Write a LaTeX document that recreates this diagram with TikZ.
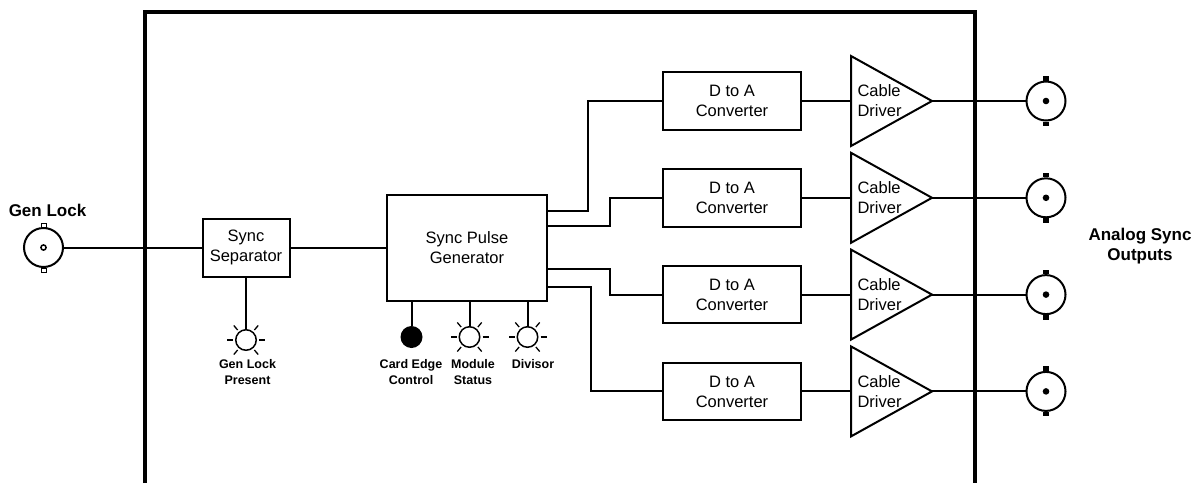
\documentclass[tikz,border=0pt]{standalone}
\usepackage{fontspec}
\setmainfont{Liberation Sans}
\newcommand\blockfont{\fontsize{16.5}{20}\selectfont}
\newcommand\bigtagfont{\bfseries\fontsize{17}{20}\selectfont}
\newcommand\tagfont{\bfseries\fontsize{12.5}{16.5}\selectfont}
\tikzset{
  wire/.style={line width=2pt},
  block/.style={draw, line width=2pt, inner sep=0pt, align=center, font=\blockfont},
  bnc/.style={draw, circle, line width=2pt, minimum size=39pt, inner sep=0pt},
  lamp/.style={draw, circle, line width=1.5pt, minimum size=20.5pt, inner sep=0pt},
  knob/.style={circle, fill=black, minimum size=22pt, inner sep=0pt},
  ray/.style={line width=1.3pt},
  tag/.style={align=center, inner sep=0pt, font=\tagfont},
  bigtag/.style={align=center, inner sep=0pt, font=\bigtagfont},
}

\begin{document}
\begin{tikzpicture}[x=1pt,y=-1pt]
\useasboundingbox (0,0) rectangle (1197,483);
% card outline
\draw[line width=4pt] (145,483) -- (145,12) -- (975,12) -- (975,483);

% gen lock input
\node[bnc] (genlock) at (43.5,247.5) {};
\draw[line width=1.5pt] (genlock.center) circle (2.6);
\draw[line width=1pt, fill=white] ([xshift=-2.5pt]genlock.north) rectangle ++(5,-4);
\draw[line width=1pt, fill=white] ([xshift=-2.5pt]genlock.south) rectangle ++(5,4);
\node[bigtag] (genlocktag) at (47.5,210.5) {Gen Lock};

\node[block, minimum width=87pt, minimum height=58pt] (sep) at (246,247.5) {Sync\\Separator};
\node[block, minimum width=160pt, minimum height=106pt] (spg) at (467,247.5) {Sync Pulse\\Generator};
\draw[wire] (genlock) -- (sep);
\draw[wire] (sep) -- (spg);

% indicators and control
\node[lamp] (genlamp) at (246,340) {};
\node[knob] (edge) at (411.5,337) {};
\node[lamp] (modlamp) at (469.5,337) {};
\node[lamp] (divlamp) at (527.5,337) {};
\foreach \n in {genlamp,modlamp,divlamp}
  \foreach \a in {0,50,130,180,230,310}
    \draw[ray] ([shift={(\a:13)}]\n.center) -- ([shift={(\a:19)}]\n.center);
\draw[wire] (sep) -- (genlamp);
\draw[wire] (spg.south -| edge) -- (edge);
\draw[wire] (spg.south -| modlamp) -- (modlamp);
\draw[wire] (spg.south -| divlamp) -- (divlamp);
\node[tag, anchor=north] (genlamptag) at (247.5,359) {Gen Lock\\Present};
\node[tag, anchor=north] (edgetag) at (411,359) {Card Edge\\Control};
\node[tag, anchor=north] (modtag) at (473,359) {Module\\Status};
\node[tag, anchor=north] (divtag) at (533,359) {Divisor};

% output chains
\foreach \i/\y in {1/101,2/197.8,3/294.6,4/391.4} {
  \node[block, minimum width=138pt, minimum height=57.5pt] (dac\i) at (732,\y) {D to A\\Converter};
  \coordinate (drv\i) at (851,\y);
  \draw[wire] (drv\i) ++(0,-45) -- ++(81,45) coordinate (tip\i) -- ++(-81,45) -- cycle;
  \node[font=\blockfont, align=left, inner sep=0pt] (drvtag\i) at (879.5,\y) {Cable\\Driver};
  \node[bnc] (out\i) at (1046,\y) {};
  \fill (out\i.center) circle (3.3);
  \fill ([xshift=-2.8pt]out\i.north) rectangle ++(5.6,-4.5);
  \fill ([xshift=-2.8pt]out\i.south) rectangle ++(5.6,4.5);
  \draw[wire] (dac\i) -- (drv\i);
  \draw[wire] (tip\i) -- (out\i);
}
\foreach \i/\dy/\dx in {1/36.5/74,2/21.5/52,3/-21.5/52,4/-39.5/71}
  \draw[wire] ([yshift=\dy pt]spg.east) -| ([xshift=-\dx pt]dac\i.west) -- (dac\i.west);
\node[bigtag] (outtag) at (1140,246) {Analog Sync\\Outputs};
\end{tikzpicture}
\end{document}
